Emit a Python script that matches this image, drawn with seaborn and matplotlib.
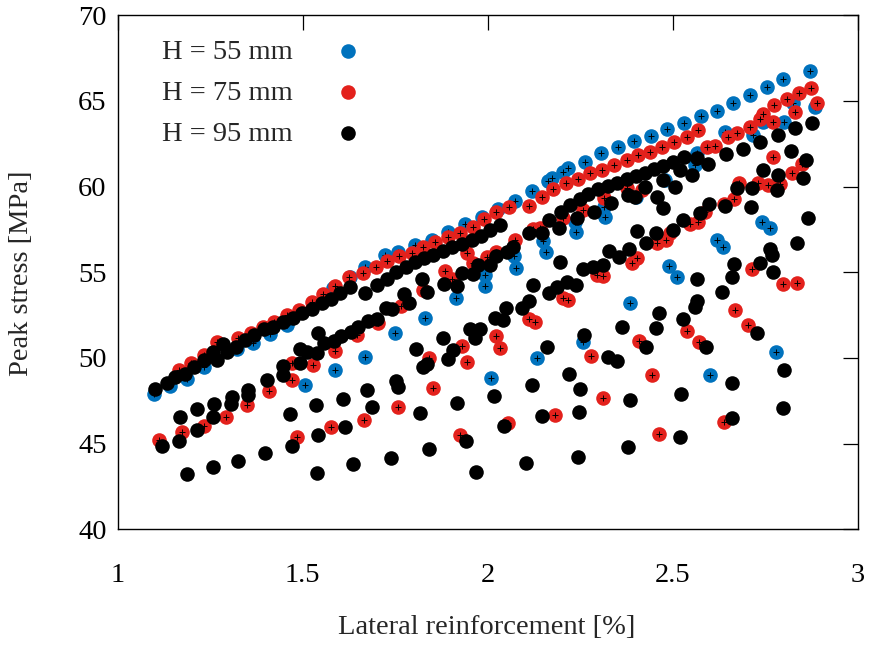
import matplotlib
matplotlib.use('Agg')
import matplotlib.pyplot as plt
import seaborn as sns

# ---- data ----
h55_x = [1.097,1.141,1.187,1.233,1.322,1.367,1.412,1.457,1.583,1.628,1.668,1.722,1.758,1.804,1.849,1.894,1.939,1.984,
         2.029,2.074,2.119,2.164,2.174,2.204,2.216,2.263,2.306,2.351,2.395,2.441,2.485,2.531,2.576,2.619,2.664,2.709,
         2.754,2.799,2.871,
         1.506,1.587,1.668,1.750,1.831,1.914,1.993,1.993,2.071,2.077,2.150,2.158,2.236,2.239,2.314,2.317,2.401,2.479,
         2.560,2.565,2.641,2.718,2.743,2.801,2.826,2.885,
         2.008,2.132,2.258,2.385,2.491,2.511,2.619,2.637,2.741,2.763,2.601,2.779]
h55_y = [47.89,48.36,48.75,49.45,50.50,50.85,51.40,51.92,54.06,54.72,55.31,56.01,56.20,56.59,56.88,57.37,57.79,58.25,
         58.69,59.16,59.74,60.34,60.53,60.87,61.09,61.45,61.94,62.29,62.69,62.98,63.35,63.70,64.12,64.43,64.86,65.35,
         65.80,66.26,66.77,
         48.42,49.29,50.05,51.44,52.33,53.48,54.84,54.20,55.95,55.23,56.82,56.20,57.95,57.37,58.83,58.24,59.41,60.39,
         61.26,61.94,63.20,63.01,63.79,63.79,64.86,64.66,
         48.81,49.98,50.92,53.22,55.36,54.74,56.88,56.49,57.95,57.57,49.00,50.36]

h75_x = [1.166,1.198,1.232,1.268,1.326,1.360,1.392,1.422,1.457,1.491,1.524,1.556,1.587,1.626,1.664,1.698,1.729,1.761,
         1.795,1.826,1.858,1.894,1.925,1.960,1.990,2.022,2.058,2.112,2.146,2.177,2.212,2.244,2.277,2.308,2.340,2.376,
         2.407,2.439,2.471,2.504,2.538,2.569,2.592,2.614,2.650,2.673,2.709,2.736,2.743,2.775,2.808,2.840,2.873,2.889,
         2.831,2.772,
         1.112,1.173,1.233,1.293,1.350,1.409,1.470,1.470,1.484,1.529,1.587,1.646,1.576,1.667,1.704,1.765,1.824,1.840,
         1.851,1.758,1.885,1.903,1.925,1.930,1.943,1.943,1.960,2.022,2.033,2.056,2.112,2.128,2.183,2.204,2.218,2.278,
         2.296,2.312,2.312,2.389,2.403,2.408,2.443,2.463,2.457,2.482,2.493,2.538,2.547,2.569,2.572,2.587,2.639,2.666,
         2.639,2.668,2.704,2.680,2.731,2.758,2.790,2.822,2.849,2.772,2.714,2.797,2.835,2.258,2.314,2.376,2.416,1.997,
         2.022,2.074,2.122,2.141,2.204]
h75_y = [49.29,49.73,50.17,50.93,51.14,51.44,51.79,52.11,52.50,52.80,53.26,53.71,54.20,54.72,54.97,55.31,55.67,55.95,
         56.14,56.49,56.78,57.06,57.31,57.66,58.08,58.52,58.83,58.89,59.42,59.84,60.19,60.47,60.78,60.97,61.26,61.55,
         61.82,62.02,62.31,62.62,62.91,63.30,62.29,62.37,62.88,63.15,63.46,63.93,64.24,64.76,65.10,65.45,65.77,64.86,
         64.37,63.79,
         45.21,45.69,46.02,46.53,47.25,48.09,48.71,49.68,45.40,49.59,50.42,51.34,45.95,46.37,52.04,53.03,53.96,49.98,
         48.26,47.15,55.09,54.59,45.50,50.69,49.74,56.14,55.52,51.28,50.56,46.18,52.25,52.11,46.65,53.48,53.38,50.11,
         54.84,54.78,47.64,55.56,55.81,51.00,49.00,45.56,56.69,56.88,57.31,51.59,57.82,57.95,50.95,58.53,58.98,59.26,
         46.28,52.80,51.92,60.19,60.19,60.09,60.15,60.78,61.32,61.71,55.17,54.30,54.39,58.63,59.32,59.90,59.80,55.91,
         56.20,56.88,57.51,57.57,58.15]

h95_x = [1.101,1.132,1.155,1.182,1.206,1.233,1.258,1.269,1.285,1.295,1.320,1.344,1.368,1.395,1.421,1.448,1.473,1.497,
         1.524,1.551,1.576,1.601,1.628,1.668,1.700,1.727,1.753,1.780,1.804,1.829,1.853,1.879,1.904,1.931,1.957,1.983,
         2.006,2.033,
         1.446,1.446,1.493,1.493,1.511,1.538,1.540,1.558,1.585,1.603,1.631,1.650,1.677,1.701,1.725,1.741,1.774,1.788,
         1.822,1.835,1.882,1.916,1.930,1.961,1.975,2.006,2.022,2.051,2.069,2.111,2.146,2.167,2.194,2.197,2.222,2.241,
         2.250,2.272,2.287,2.299,2.326,2.349,2.376,2.401,2.425,2.450,2.473,2.501,2.531,2.567,2.332,2.380,2.398,2.425,
         2.458,2.475,2.475,2.506,2.520,2.551,2.596,2.644,2.691,2.736,2.785,2.831,2.877,2.745,2.785,2.819,2.860,2.853,
         2.781,2.714,2.673,2.711,2.641,2.599,2.574,2.527,2.500,2.455,2.403,2.428,2.383,2.356,2.328,2.311,2.285,2.258,
         2.195,2.214,2.239,2.187,2.167,2.123,2.112,2.093,2.050,2.020,2.041,1.952,1.979,1.966,1.878,1.894,1.905,1.806,
         1.826,1.836,1.751,1.758,1.673,1.687,1.608,1.615,1.536,1.542,1.538,1.637,1.738,1.840,1.941,1.968,1.817,1.918,
         2.017,2.044,2.104,2.119,2.146,2.160,2.221,2.243,2.248,2.250,2.260,2.326,2.350,2.362,2.380,2.385,2.427,2.455,
         2.464,2.522,2.520,2.529,2.560,2.565,2.565,2.590,2.632,2.660,2.666,2.660,2.661,2.727,2.736,2.763,2.768,2.770,
         2.801,2.799,2.837,2.867,
         1.119,1.166,1.168,1.187,1.214,1.215,1.257,1.258,1.261,1.305,1.308,1.326,1.353,1.353,1.398,1.403,1.466,1.470]
h95_y = [48.17,48.52,48.88,49.06,49.49,49.88,50.36,49.88,50.81,50.36,50.65,51.04,51.34,51.67,51.82,52.11,52.31,52.64,
         52.84,53.19,53.42,53.77,54.16,53.77,54.26,54.61,54.99,55.29,55.60,55.81,55.98,56.22,56.47,56.67,56.86,57.10,
         57.47,57.76,
         49.53,49.00,50.50,49.68,50.32,50.30,51.47,50.87,50.99,51.28,51.54,51.82,52.18,52.27,52.90,52.85,53.73,53.19,
         54.61,53.85,54.31,54.20,54.96,54.87,55.42,55.42,55.95,56.20,56.49,57.27,57.31,58.05,57.57,58.53,58.93,58.15,
         59.28,59.57,58.53,59.84,60.02,60.23,60.43,60.62,60.81,61.01,61.20,61.44,61.75,61.65,59.06,59.51,59.41,59.96,
         59.41,60.39,58.73,59.99,60.97,60.68,61.32,61.90,62.18,62.62,63.01,63.40,63.73,60.97,60.68,62.10,61.55,60.48,
         59.80,59.90,59.90,58.83,58.87,58.98,58.44,58.05,57.47,57.31,57.43,56.72,56.34,55.87,56.23,55.42,55.29,55.17,
         55.62,54.45,54.26,54.16,53.81,54.26,53.34,52.90,52.90,52.31,52.20,51.67,51.67,51.14,51.14,49.92,50.46,50.50,
         49.49,49.64,48.67,48.32,48.13,47.12,47.58,45.95,47.25,45.50,43.30,43.79,44.14,44.66,45.17,43.34,46.80,47.38,
         47.80,46.02,43.88,48.42,46.61,50.62,49.06,44.24,46.84,48.16,51.35,50.07,49.82,51.82,44.82,47.54,50.65,51.73,
         52.60,47.89,45.40,52.25,52.97,53.34,54.59,50.65,53.86,54.71,55.48,46.47,48.55,51.47,55.56,56.34,56.01,55.03,
         49.29,47.06,56.69,58.15,
         44.86,45.17,46.53,43.20,45.79,47.00,43.65,46.53,47.31,47.31,47.74,44.00,48.13,47.83,44.47,48.71,46.72,44.86]

labels = ['H = 55 mm', 'H = 75 mm', 'H = 95 mm']
colors = ['#0072bd', '#e3211c', '#000000']
x_ticks = [1, 1.5, 2, 2.5, 3]
x_tick_labels = ['1', '1.5', '2', '2.5', '3']
y_ticks = [40, 45, 50, 55, 60, 65, 70]

# ---- style ----
sns.set_theme(style='white')
plt.rcParams['font.family'] = ['Liberation Serif', 'DejaVu Serif']
FS = 20.5

fig = plt.figure(figsize=(8.71, 6.48), dpi=100)
ax = fig.add_axes([117.7 / 871, 1 - 529.2 / 648, 740 / 871, 513.9 / 648])

series = [(h55_x, h55_y, True), (h75_x, h75_y, True), (h95_x, h95_y, False)]
z = 2
for (xs, ys, plus), lab, col in zip(series, labels, colors):
    sns.scatterplot(x=xs, y=ys, color=col, s=110, linewidth=0, ax=ax, label=lab, zorder=z)
    z += 1
    if plus:
        sns.scatterplot(x=xs, y=ys, marker='+', color='black', s=14, linewidth=0.7, ax=ax,
                        legend=False, zorder=z)
        z += 1

ax.set_xlim(1, 3)
ax.set_ylim(40, 70)
ax.set_xticks(x_ticks)
ax.set_xticklabels(x_tick_labels)
ax.set_yticks(y_ticks)
ax.set_xlabel('')
ax.set_ylabel('')
for sp in ax.spines.values():
    sp.set_color('black')
    sp.set_linewidth(1.0)
ax.tick_params(direction='in', length=10.5, width=0.9, top=True, right=True,
               labelsize=FS, colors='black')
ax.tick_params(axis='x', pad=24)
ax.tick_params(axis='y', pad=8)

leg = ax.legend(loc='upper left', bbox_to_anchor=(0.06, 0.954), frameon=False, markerfirst=False,
                handlelength=1.0, handletextpad=1.45, labelspacing=0.53, fontsize=FS,
                borderaxespad=0, borderpad=0)

fig.text(487 / 871, 1 - 628 / 648, 'Lateral reinforcement [%]', ha='center', va='center', fontsize=FS)
fig.text(22 / 871, 1 - 273 / 648, 'Peak stress [MPa]', ha='center', va='center', rotation=90, fontsize=FS)

fig.savefig('out.png', dpi=100)
